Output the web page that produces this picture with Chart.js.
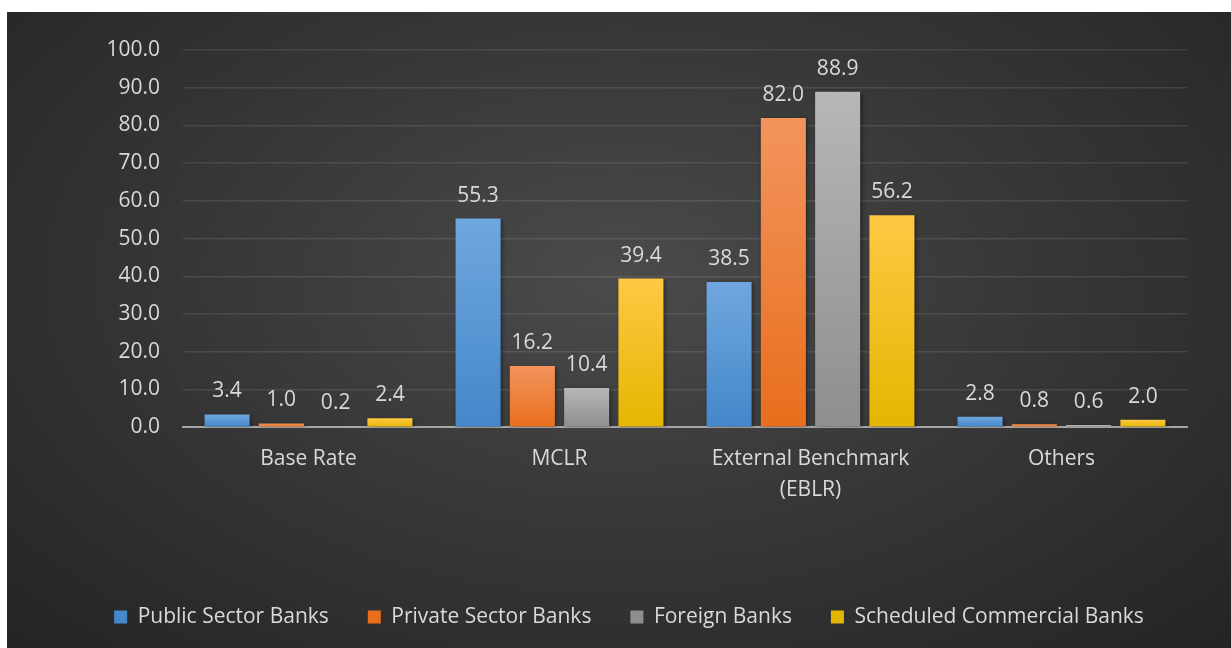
<!DOCTYPE html>
<html>
<head>
<meta charset="utf-8">
<script src="https://cdn.jsdelivr.net/npm/chart.js@4.4.1/dist/chart.umd.min.js"></script>
<style>
  html, body { margin: 0; padding: 0; background: #ffffff; }
  #panel {
    position: absolute; left: 7px; top: 12px; width: 1224px; height: 636px;
    background: radial-gradient(ellipse farthest-corner at 50% 42%, #4b4b4b 0%, #3a3a3a 40%, #242424 100%);
  }
  #chart { display: block; }
</style>
</head>
<body>
<div id="panel"><canvas id="chart" width="1224" height="636"></canvas></div>
<script>
// Lending-rate benchmark shares by bank group (per cent)
const categories = ['Base Rate', 'MCLR', ['External Benchmark', '(EBLR)'], 'Others'];
const seriesNames = ['Public Sector Banks', 'Private Sector Banks', 'Foreign Banks', 'Scheduled Commercial Banks'];
const publicSector = [3.4, 55.3, 38.5, 2.8];
const privateSector = [1.0, 16.2, 82.0, 0.8];
const foreignBanks = [0.2, 10.4, 88.9, 0.6];
const scheduledCommercial = [2.4, 39.4, 56.2, 2.0];
const yTicks = [0, 10, 20, 30, 40, 50, 60, 70, 80, 90, 100];

const TEXT = '#d9d9d9';
const FONT = '"Open Sans", "Noto Sans", sans-serif';
const SIZE = 21;

// Vertical gradient per bar, light at the top and deeper at the base
function barFill(top, bottom, solid) {
  return (ctx) => {
    if (ctx.type !== 'data') return solid;
    const chart = ctx.chart;
    const y = chart.scales && chart.scales.y;
    if (!y) return solid;
    const y0 = y.getPixelForValue(ctx.raw);
    const y1 = y.getPixelForValue(0);
    if (!isFinite(y0) || !isFinite(y1) || y1 - y0 < 0.5) return top;
    const g = chart.ctx.createLinearGradient(0, y0, 0, y1);
    g.addColorStop(0, top);
    g.addColorStop(1, bottom);
    return g;
  };
}

// Soft drop shadow under the bars, then value labels on top
const barDecor = {
  id: 'barDecor',
  beforeDatasetsDraw(chart) {
    const c = chart.ctx;
    c.save();
    c.shadowColor = 'rgba(0,0,0,0.45)';
    c.shadowBlur = 4;
    c.shadowOffsetX = 1.5;
    c.shadowOffsetY = 1.5;
  },
  afterDatasetsDraw(chart) {
    const c = chart.ctx;
    c.restore();
    c.save();
    c.fillStyle = TEXT;
    c.font = SIZE + 'px ' + FONT;
    c.textAlign = 'center';
    c.textBaseline = 'alphabetic';
    chart.data.datasets.forEach((ds, i) => {
      chart.getDatasetMeta(i).data.forEach((bar, j) => {
        c.fillText(ds.data[j].toFixed(1), bar.x, bar.y - 17);
      });
    });
    c.restore();
  }
};

function build() {
  new Chart(document.getElementById('chart'), {
    type: 'bar',
    data: {
      labels: categories,
      datasets: [
        { label: seriesNames[0], data: publicSector, backgroundColor: barFill('#6fa7df', '#4487ca', '#5b9bd5') },
        { label: seriesNames[1], data: privateSector, backgroundColor: barFill('#f3945d', '#e86e1c', '#ed7d31') },
        { label: seriesNames[2], data: foreignBanks, backgroundColor: barFill('#b7b7b7', '#8e8e8e', '#a5a5a5') },
        { label: seriesNames[3], data: scheduledCommercial, backgroundColor: barFill('#ffc844', '#e4b600', '#ffc000') }
      ]
    },
    options: {
      responsive: false,
      animation: false,
      layout: { padding: { left: 20, right: 0, top: 38, bottom: 10.4 } },
      datasets: { bar: { categoryPercentage: 0.865, barPercentage: 0.83, borderWidth: 0 } },
      scales: {
        x: {
          grid: { display: false, drawTicks: false },
          border: { display: true, color: '#a6a6a6', width: 2 },
          ticks: { color: TEXT, font: { family: FONT, size: SIZE, lineHeight: 1.5 }, padding: 16, maxRotation: 0, autoSkip: false },
          afterFit(scale) { scale.height = 140.4; }
        },
        y: {
          min: yTicks[0],
          max: yTicks[yTicks.length - 1],
          afterBuildTicks(scale) { scale.ticks = yTicks.map(v => ({ value: v })); },
          grid: {
            color: (ctx) => (ctx.tick && ctx.tick.value === 0) ? 'rgba(0,0,0,0)' : 'rgba(255,255,255,0.10)',
            lineWidth: 1.5,
            drawTicks: false
          },
          border: { display: false },
          ticks: { color: TEXT, font: { family: FONT, size: SIZE }, padding: 23, callback: (v) => Number(v).toFixed(1) },
          afterFit(scale) { scale.width = 156; }
        },
        // empty right-hand margin beside the plot
        gutter: {
          type: 'linear',
          position: 'right',
          grid: { display: false, drawTicks: false },
          border: { display: false },
          ticks: { display: false },
          afterFit(scale) { scale.width = 44; }
        }
      },
      plugins: {
        legend: {
          position: 'bottom',
          labels: { color: TEXT, font: { family: FONT, size: SIZE }, boxWidth: 13, boxHeight: 13, padding: 39 }
        },
        tooltip: { enabled: false }
      }
    },
    plugins: [barDecor]
  });
}

if (document.fonts && document.fonts.load) {
  document.fonts.load(SIZE + 'px "Open Sans"').then(build, build);
} else {
  build();
}
</script>
</body>
</html>
